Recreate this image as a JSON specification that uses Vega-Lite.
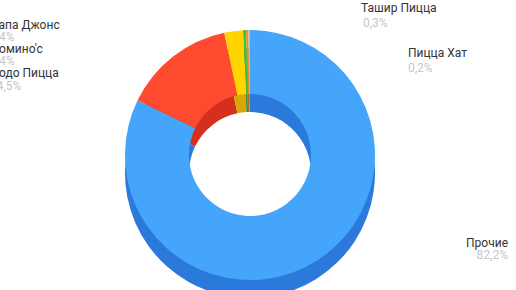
{
  "$schema": "https://vega.github.io/schema/vega-lite/v6.json",
  "autosize": {"type": "none"},
  "width": 500,
  "height": 270,
  "padding": {"left": 0, "top": 20, "right": 16, "bottom": 0},
  "background": "white",
  "config": {
    "view": {"stroke": null},
    "locale": {"number": {"decimal": ",", "thousands": " ", "grouping": [3], "currency": ["", " ₽"]}},
    "text": {"font": "Roboto", "fontSize": 12}
  },
  "data": {
    "values": [
      {"name": "Прочие", "share": 0.822, "rank": 1},
      {"name": "Додо Пицца", "share": 0.145, "rank": 2},
      {"name": "Домино'с", "share": 0.024, "rank": 3},
      {"name": "Папа Джонс", "share": 0.004, "rank": 4},
      {"name": "Ташир Пицца", "share": 0.003, "rank": 5},
      {"name": "Пицца Хат", "share": 0.002, "rank": 6}
    ]
  },
  "resolve": {"scale": {"color": "independent"}},
  "encoding": {
    "theta": {"field": "share", "type": "quantitative", "stack": true},
    "order": {"field": "rank", "type": "quantitative"}
  },
  "layer": [
    {
      "mark": {"type": "arc", "outerRadius": 125, "innerRadius": 61, "yOffset": 18},
      "encoding": {
        "color": {
          "field": "name", "type": "nominal", "legend": null,
          "scale": {
            "domain": ["Прочие", "Додо Пицца", "Домино'с", "Папа Джонс", "Ташир Пицца", "Пицца Хат"],
            "range": ["#2b79db", "#d5301d", "#d7a706", "#2f8c37", "#b9661a", "#8e927f"]
          }
        }
      }
    },
    {
      "mark": {"type": "arc", "outerRadius": 125, "innerRadius": 61},
      "encoding": {
        "color": {
          "field": "name", "type": "nominal", "legend": null,
          "scale": {
            "domain": ["Прочие", "Додо Пицца", "Домино'с", "Папа Джонс", "Ташир Пицца", "Пицца Хат"],
            "range": ["#44a5fa", "#fe4a2f", "#ffd500", "#3cc04a", "#f4891f", "#b9bfa9"]
          }
        }
      }
    },
    {"mark": {"type": "text", "radius": 125, "align": "left", "baseline": "alphabetic", "dx": 113.75, "dy": -18, "color": "#333333"},
     "encoding": {"text": {"condition": {"test": "datum.name === 'Ташир Пицца'", "field": "name"}, "value": ""}}},
    {"mark": {"type": "text", "radius": 125, "align": "left", "baseline": "alphabetic", "dx": 115.75, "dy": -3, "color": "#c6c6c6"},
     "encoding": {"text": {"condition": {"test": "datum.name === 'Ташир Пицца'", "field": "share", "format": ".1%"}, "value": ""}}},
    {"mark": {"type": "text", "radius": 125, "align": "left", "baseline": "alphabetic", "dx": 158.8, "dy": 27, "color": "#333333"},
     "encoding": {"text": {"condition": {"test": "datum.name === 'Пицца Хат'", "field": "name"}, "value": ""}}},
    {"mark": {"type": "text", "radius": 125, "align": "left", "baseline": "alphabetic", "dx": 158.8, "dy": 42, "color": "#c6c6c6"},
     "encoding": {"text": {"condition": {"test": "datum.name === 'Пицца Хат'", "field": "share", "format": ".1%"}, "value": ""}}},
    {"mark": {"type": "text", "radius": 125, "align": "right", "baseline": "alphabetic", "dx": 191.7, "dy": -14, "color": "#333333"},
     "encoding": {"text": {"condition": {"test": "datum.name === 'Прочие'", "field": "name"}, "value": ""}}},
    {"mark": {"type": "text", "radius": 125, "align": "right", "baseline": "alphabetic", "dx": 191.7, "dy": -2, "color": "#c6c6c6"},
     "encoding": {"text": {"condition": {"test": "datum.name === 'Прочие'", "field": "share", "format": ".1%"}, "value": ""}}},
    {"mark": {"type": "text", "radius": 125, "align": "left", "baseline": "alphabetic", "dx": -254.5, "dy": -1.1, "color": "#333333"},
     "encoding": {"text": {"condition": {"test": "datum.name === 'Папа Джонс'", "field": "name"}, "value": ""}}},
    {"mark": {"type": "text", "radius": 125, "align": "left", "baseline": "alphabetic", "dx": -254.5, "dy": 10.9, "color": "#c6c6c6"},
     "encoding": {"text": {"condition": {"test": "datum.name === 'Папа Джонс'", "field": "share", "format": ".1%"}, "value": ""}}},
    {"mark": {"type": "text", "radius": 125, "align": "left", "baseline": "alphabetic", "dx": -243.5, "dy": 21.9, "color": "#333333"},
     "encoding": {"text": {"condition": {"test": "datum.name === \"Домино'с\"", "field": "name"}, "value": ""}}},
    {"mark": {"type": "text", "radius": 125, "align": "left", "baseline": "alphabetic", "dx": -243.5, "dy": 33.9, "color": "#c6c6c6"},
     "encoding": {"text": {"condition": {"test": "datum.name === \"Домино'с\"", "field": "share", "format": ".1%"}, "value": ""}}},
    {"mark": {"type": "text", "radius": 125, "align": "left", "baseline": "alphabetic", "dx": -183.1, "dy": 20.5, "color": "#333333"},
     "encoding": {"text": {"condition": {"test": "datum.name === 'Додо Пицца'", "field": "name"}, "value": ""}}},
    {"mark": {"type": "text", "radius": 125, "align": "left", "baseline": "alphabetic", "dx": -183.1, "dy": 33.5, "color": "#c6c6c6"},
     "encoding": {"text": {"condition": {"test": "datum.name === 'Додо Пицца'", "field": "share", "format": ".1%"}, "value": ""}}}
  ]
}
